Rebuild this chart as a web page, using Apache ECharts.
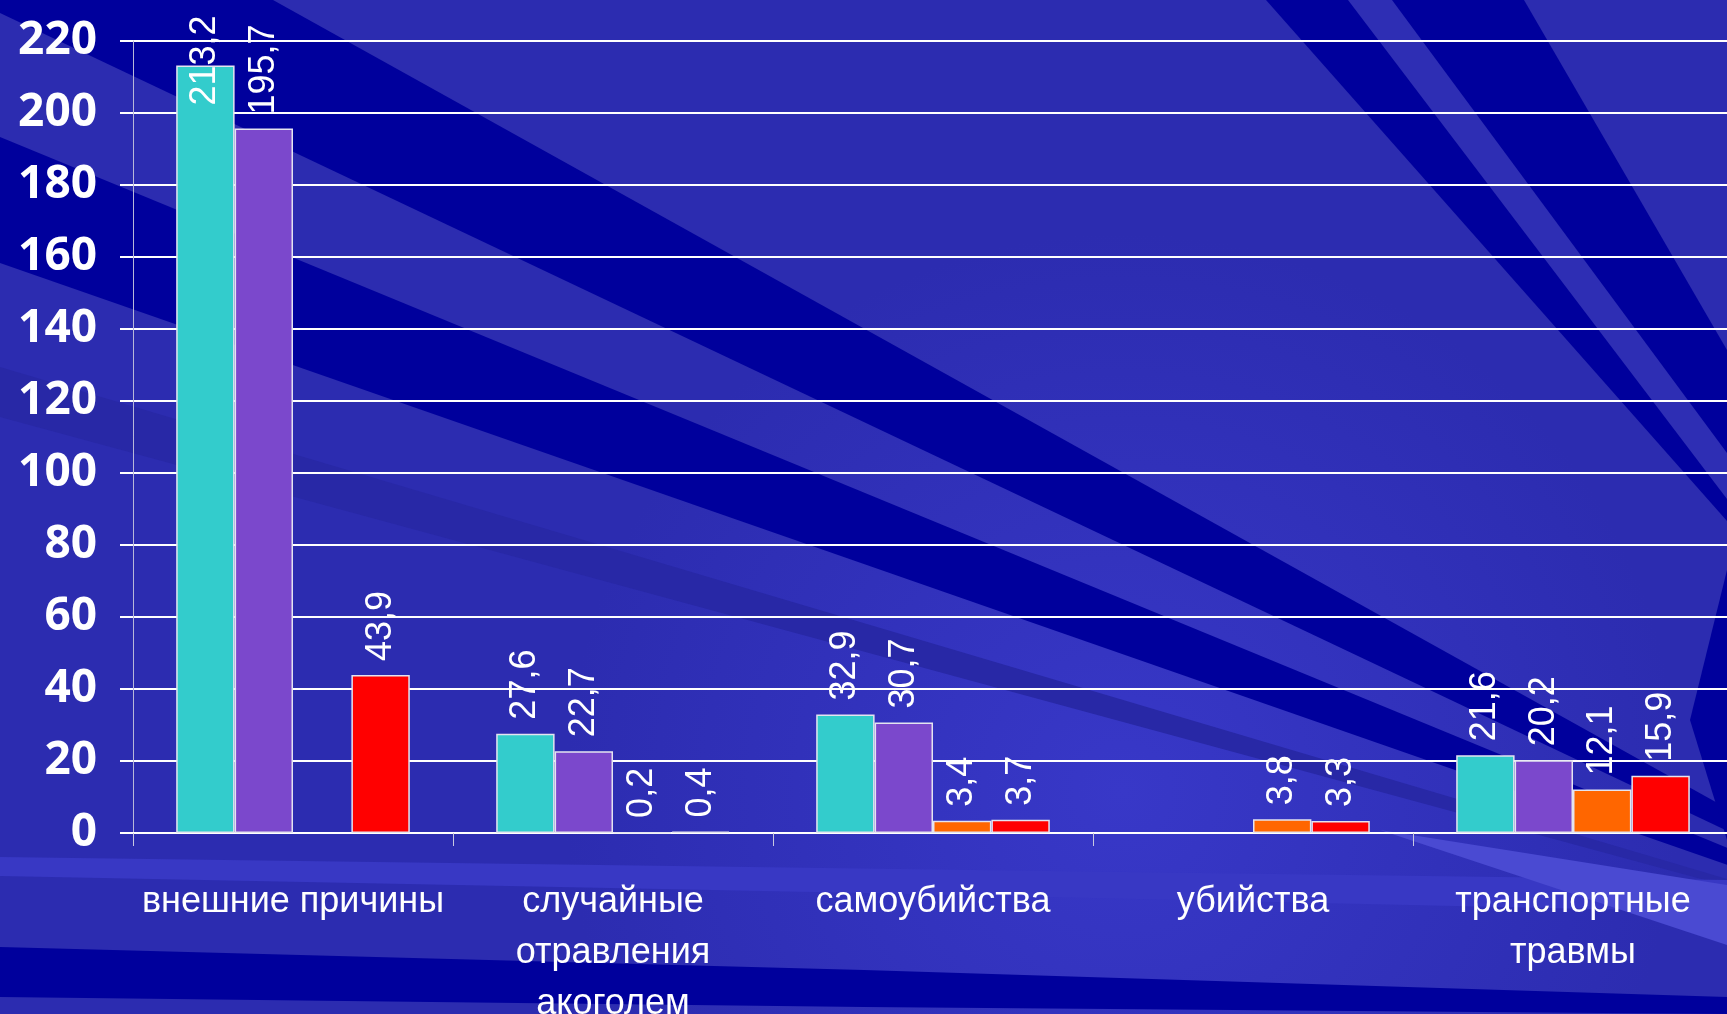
<!DOCTYPE html>
<html>
<head>
<meta charset="utf-8">
<script src="https://cdn.jsdelivr.net/npm/echarts@6/dist/echarts.min.js"></script>
<style>
  html, body { margin: 0; padding: 0; overflow: hidden; background: #2e2eb4; }
  #chart { width: 1727px; height: 1014px; }
</style>
</head>
<body>
<div id="chart"></div>
<script>
// categories and values
var categories = ['внешние причины', 'случайные\nотравления\nакоголем', 'самоубийства', 'убийства', 'транспортные\nтравмы'];
var teal   = [213.2, 27.6, 32.9, null, 21.6];
var violet = [195.7, 22.7, 30.7, null, 20.2];
var orange = [null, 0.2, 3.4, 3.8, 12.1];
var red    = [43.9, 0.4, 3.7, 3.3, 15.9];
var yMin = 0, yMax = 220, yStep = 20;

var chart = echarts.init(document.getElementById('chart'));

// background streaks of the slide (decoration only)
var DARK = '#00009c';
function poly(points, fill) {
    return { type: 'polygon', silent: true, z: -100, shape: { points: points }, style: { fill: fill } };
}
var bg = [
    {
        type: 'rect', silent: true, z: -101,
        shape: { x: 0, y: 0, width: 1727, height: 1014 },
        style: {
            fill: {
                type: 'radial', x: 0.65, y: 0.78, r: 0.55,
                colorStops: [{ offset: 0, color: '#3838c8' }, { offset: 1, color: '#2c2cb0' }]
            }
        }
    },
    // shallow rays converging to the right
    poly([[0, 0], [273, 0], [2000, 960], [0, 13]], DARK),
    poly([[0, 137], [2000, 960], [0, 263]], DARK),
    poly([[0, 367], [2000, 960], [0, 417]], '#2828a6'),
    // steep band top right
    poly([[1266, 0], [1524, 0], [1727, 350], [1727, 521]], DARK),
    poly([[1348, 0], [1392, 0], [1727, 453], [1727, 499]], '#2e2eb4'),
    poly([[1727, 570], [1727, 840], [1690, 720]], DARK),
    // bottom streaks
    poly([[0, 857], [0, 876], [864, 893], [1727, 912], [1727, 880]], '#3838c4'),
    poly([[1380, 830], [1727, 885], [1727, 945]], '#4a4ad2'),
    poly([[0, 947], [864, 970], [1727, 997], [1727, 1014], [864, 1007], [0, 997]], DARK)
];

function fmt(p) {
    return String(p.value).replace('.', ',');
}

// the tallest label would run off the top, so it is pushed down into the bar
function makeData(arr) {
    return arr.map(function (v) {
        if (v !== null && v > 200) {
            return { value: v, label: { distance: -40 } };
        }
        return v;
    });
}

function barSeries(name, arr, color) {
    return {
        name: name,
        type: 'bar',
        data: makeData(arr),
        barGap: '0%',
        barCategoryGap: '27%',
        itemStyle: { color: color, borderColor: '#e4e4f0', borderWidth: 1.5 },
        label: {
            show: true,
            position: 'top',
            rotate: 90,
            align: 'left',
            verticalAlign: 'middle',
            distance: 14,
            color: '#fff',
            fontSize: 36,
            fontFamily: 'Liberation Sans',
            formatter: fmt
        }
    };
}

var option = {
    backgroundColor: '#2e2eb4',
    animation: false,
    graphic: { elements: bg },
    grid: { left: 133, right: -6, top: 41, bottom: 181, containLabel: false, outerBoundsMode: 'none' },
    xAxis: {
        type: 'category',
        data: categories,
        axisLine: { lineStyle: { color: '#fff', width: 2 } },
        axisTick: { show: true, length: 13, lineStyle: { color: '#c8c8e0', width: 1 } },
        axisLabel: {
            color: '#fff',
            fontSize: 36,
            lineHeight: 51,
            fontFamily: 'Liberation Sans',
            margin: 44,
            interval: 0
        }
    },
    yAxis: {
        type: 'value',
        min: yMin,
        max: yMax,
        interval: yStep,
        axisLine: { show: true, lineStyle: { color: '#b8b8d8', width: 1 } },
        axisTick: { show: true, length: 13, lineStyle: { color: '#fff', width: 2 } },
        splitLine: { lineStyle: { color: '#fff', width: 2 } },
        axisLabel: {
            color: '#fff',
            fontSize: 46,
            fontWeight: 'bold',
            fontFamily: 'Open Sans',
            margin: 36
        }
    },
    series: [
        barSeries('Ряд 1', teal, '#33cccc'),
        barSeries('Ряд 2', violet, '#7b48cc'),
        barSeries('Ряд 3', orange, '#ff6600'),
        barSeries('Ряд 4', red, '#ff0000')
    ]
};
chart.setOption(option);
</script>
</body>
</html>
